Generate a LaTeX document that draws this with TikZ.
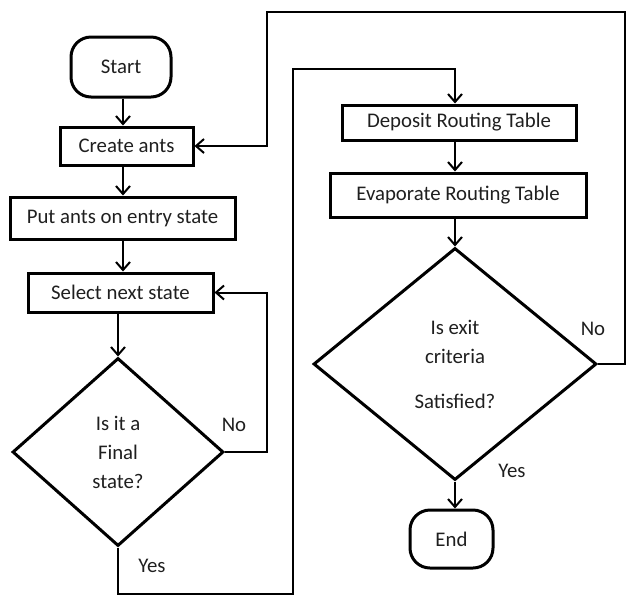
\documentclass[tikz,border=0pt]{standalone}
\usepackage{fontspec}
\setmainfont{Carlito}
\usetikzlibrary{shapes.geometric,arrows.meta}

\begin{document}
\def\myxscale{0.5pt}
\def\myyscale{-0.5pt}

\begin{tikzpicture}[x=\myxscale, y=\myyscale, line join=miter,
>={Straight Barb[length=4pt,width=7pt]},
font=\fontsize{10.4}{14.5}\selectfont,
procbox/.style={draw, line width=1.5pt, inner sep=0pt},
termbox/.style={draw, line width=1.5pt, rounded corners=10pt, inner sep=0pt},
decbox/.style={draw, diamond, line width=1.5pt, inner sep=0pt, align=center},
]
\def\txtcolor{black!88}
\useasboundingbox (0,0) rectangle (626,596);

% left column
\node[termbox, minimum width=50pt, minimum height=30pt, text=\txtcolor] (start) at (121,67) {Start};
\node[procbox, minimum width=66.5pt, minimum height=19pt, text=\txtcolor] (create) at (126.5,146) {Create ants};
\node[procbox, minimum width=112.5pt, minimum height=21pt, text=\txtcolor] (put) at (122.5,218) {Put ants on entry state};
\node[procbox, minimum width=92.5pt, minimum height=19.5pt, text=\txtcolor] (select) at (120.5,292.5) {Select next state};
\node[decbox, minimum width=105.5pt, minimum height=94pt, text=\txtcolor] (final) at (118,452) {Is it a\\Final\\state?};

% right column
\node[procbox, minimum width=117pt, minimum height=17.5pt, text=\txtcolor] (deposit) at (459,122.5) {Deposit Routing Table};
\node[procbox, minimum width=128pt, minimum height=22pt, text=\txtcolor] (evap) at (458,195) {Evaporate Routing Table};
\node[decbox, minimum width=141.5pt, minimum height=116pt, text=\txtcolor] (exit) at (455,364) {Is exit\\criteria\\[8pt]Satisfied?};
\node[termbox, minimum width=41.5pt, minimum height=29pt, text=\txtcolor] (end) at (451.5,539) {End};

% bends of the loops
\coordinate (nobend) at (267,0);
\coordinate (yesbot) at (293,594);
\coordinate (yestop) at (293,69);
\coordinate (exitR) at (625,12);
\coordinate (exitL) at (267,12);

\draw[->, line width=1pt] (start.south -| 123,0) -- (create.north -| 123,0);
\draw[->, line width=1pt] (create.south -| 123,0) -- (put.north -| 123,0);
\draw[->, line width=1pt] (put.south -| 123,0) -- (select.north -| 123,0);
\draw[->, line width=1pt] (select.south -| final.north) -- (final.north);
\draw[->, line width=1pt] (final.east) -- (final.east -| nobend) |- (select.east);
\draw[->, line width=1pt] (final.south) |- (yesbot) -- (yestop) -| (deposit.north -| exit.north);
\draw[->, line width=1pt] (deposit.south -| exit.north) -- (evap.north -| exit.north);
\draw[->, line width=1pt] (evap.south -| exit.north) -- (exit.north);
\draw[->, line width=1pt] (exit.east) -| (exitR) -- (exitL) |- (create.east);
\draw[->, line width=1pt] (exit.south) -- (exit.south |- end.north);

% labels
\node[text=\txtcolor] (no1) at (234,425) {No};
\node[text=\txtcolor] (yes1) at (152,566) {Yes};
\node[text=\txtcolor] (no2) at (593,329) {No};
\node[text=\txtcolor] (yes2) at (512,471) {Yes};
\end{tikzpicture}
\end{document}
